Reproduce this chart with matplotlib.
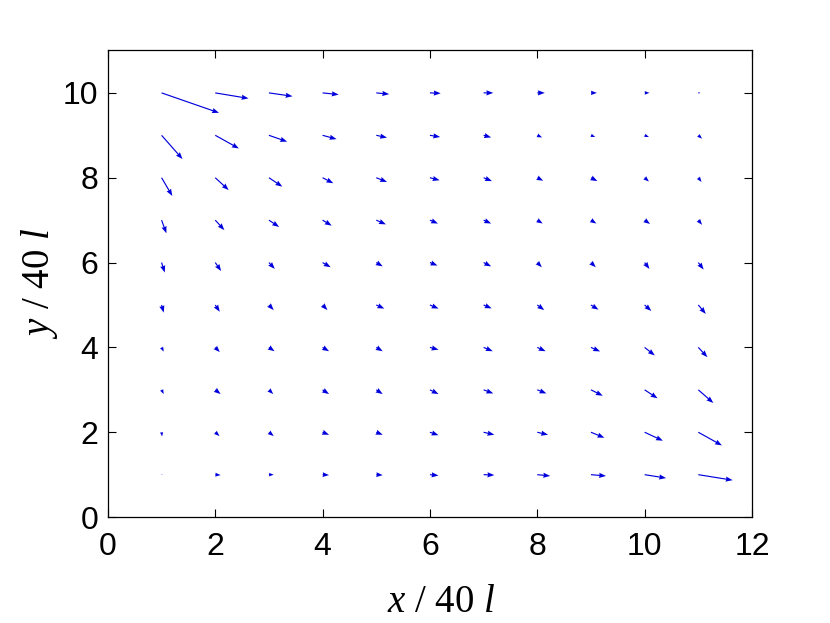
import numpy as np
import matplotlib
matplotlib.use("Agg")
import matplotlib.pyplot as plt

# grid positions (units of 40 l)
x_pos = [1, 2, 3, 4, 5, 6, 7, 8, 9, 10, 11]
y_pos = [1, 2, 3, 4, 5, 6, 7, 8, 9, 10]

# velocity components, rows from y=1 (bottom) to y=10 (top), columns x=1..11
u_rows = [
    [0.02, 0.10, 0.09, 0.12, 0.12, 0.16, 0.20, 0.24, 0.28, 0.40, 0.64],   # y=1
    [0.01, 0.08, 0.09, 0.12, 0.12, 0.16, 0.20, 0.20, 0.25, 0.34, 0.44],   # y=2
    [0.04, 0.10, 0.08, 0.12, 0.12, 0.16, 0.18, 0.17, 0.22, 0.24, 0.28],   # y=3
    [0.04, 0.085, 0.105, 0.12, 0.12, 0.16, 0.17, 0.155, 0.17, 0.19, 0.17],# y=4
    [0.04, 0.085, 0.09, 0.09, 0.15, 0.16, 0.15, 0.13, 0.14, 0.125, 0.14], # y=5
    [0.06, 0.11, 0.11, 0.15, 0.12, 0.14, 0.14, 0.085, 0.09, 0.09, 0.10],  # y=6
    [0.09, 0.17, 0.19, 0.17, 0.18, 0.15, 0.14, 0.10, 0.10, 0.10, 0.07],   # y=7
    [0.20, 0.25, 0.25, 0.20, 0.20, 0.18, 0.155, 0.11, 0.12, 0.08, 0.06],  # y=8
    [0.39, 0.44, 0.34, 0.26, 0.20, 0.19, 0.14, 0.09, 0.08, 0.08, 0.07],   # y=9
    [1.07, 0.62, 0.44, 0.30, 0.24, 0.20, 0.18, 0.14, 0.11, 0.09, 0.04],   # y=10
]
v_rows = [
    [0.0, -0.01, 0.0, -0.01, -0.01, -0.02, -0.01, -0.03, -0.03, -0.08, -0.13],
    [-0.10, -0.09, -0.09, -0.06, -0.06, -0.07, -0.06, -0.06, -0.13, -0.20, -0.31],
    [-0.10, -0.10, -0.10, -0.10, -0.10, -0.10, -0.085, -0.085, -0.14, -0.20, -0.31],
    [-0.10, -0.11, -0.09, -0.09, -0.09, -0.055, -0.09, -0.09, -0.095, -0.19, -0.23],
    [-0.18, -0.16, -0.12, -0.12, -0.085, -0.085, -0.08, -0.12, -0.11, -0.14, -0.21],
    [-0.235, -0.20, -0.15, -0.11, -0.09, -0.07, -0.09, -0.11, -0.11, -0.15, -0.165],
    [-0.31, -0.235, -0.16, -0.13, -0.10, -0.08, -0.08, -0.08, -0.08, -0.09, -0.11],
    [-0.43, -0.29, -0.21, -0.13, -0.10, -0.06, -0.08, -0.07, -0.08, -0.09, -0.10],
    [-0.56, -0.31, -0.15, -0.09, -0.055, -0.04, -0.05, -0.05, -0.04, -0.04, -0.08],
    [-0.47, -0.13, -0.08, -0.04, -0.03, -0.01, 0.0, 0.0, 0.0, 0.0, 0.0],
]

x_ticks = [0, 2, 4, 6, 8, 10, 12]
y_ticks = [0, 2, 4, 6, 8, 10]
x_label = r"$x$ / 40 $l$"
y_label = r"$y$ / 40 $l$"

plt.rcParams["mathtext.fontset"] = "custom"
plt.rcParams["mathtext.rm"] = "Liberation Serif"
plt.rcParams["mathtext.it"] = "Liberation Serif:italic"

fig = plt.figure(figsize=(8.3, 6.23), dpi=100)
ax = fig.add_axes([0.130, 0.170, 0.776, 0.749])

X, Y = np.meshgrid(x_pos, y_pos)
U = np.array(u_rows)
V = np.array(v_rows)
ax.quiver(X, Y, U, V, angles="xy", scale_units="xy", scale=1,
          color="#0000dd", width=0.0018, headwidth=4.5, headlength=6,
          headaxislength=5.5, minshaft=1, minlength=0.3)

ax.set_xlim(0, 12)
ax.set_ylim(0, 11)
ax.set_xticks(x_ticks)
ax.set_yticks(y_ticks)
ax.tick_params(direction="in", length=6, width=0.8, top=True, right=True,
               labelsize=23)
ax.tick_params(axis="x", pad=11)
ax.tick_params(axis="y", pad=7)
for lab in ax.get_xticklabels() + ax.get_yticklabels():
    lab.set_fontfamily("Liberation Sans")
for s in ax.spines.values():
    s.set_linewidth(0.9)

ax.set_xlabel(x_label, fontsize=28, fontfamily="Liberation Serif")
ax.set_ylabel(y_label, fontsize=28, fontfamily="Liberation Serif", labelpad=2)
ax.xaxis.set_label_coords(0.518, -0.143)

fig.savefig("out.png", dpi=100)
